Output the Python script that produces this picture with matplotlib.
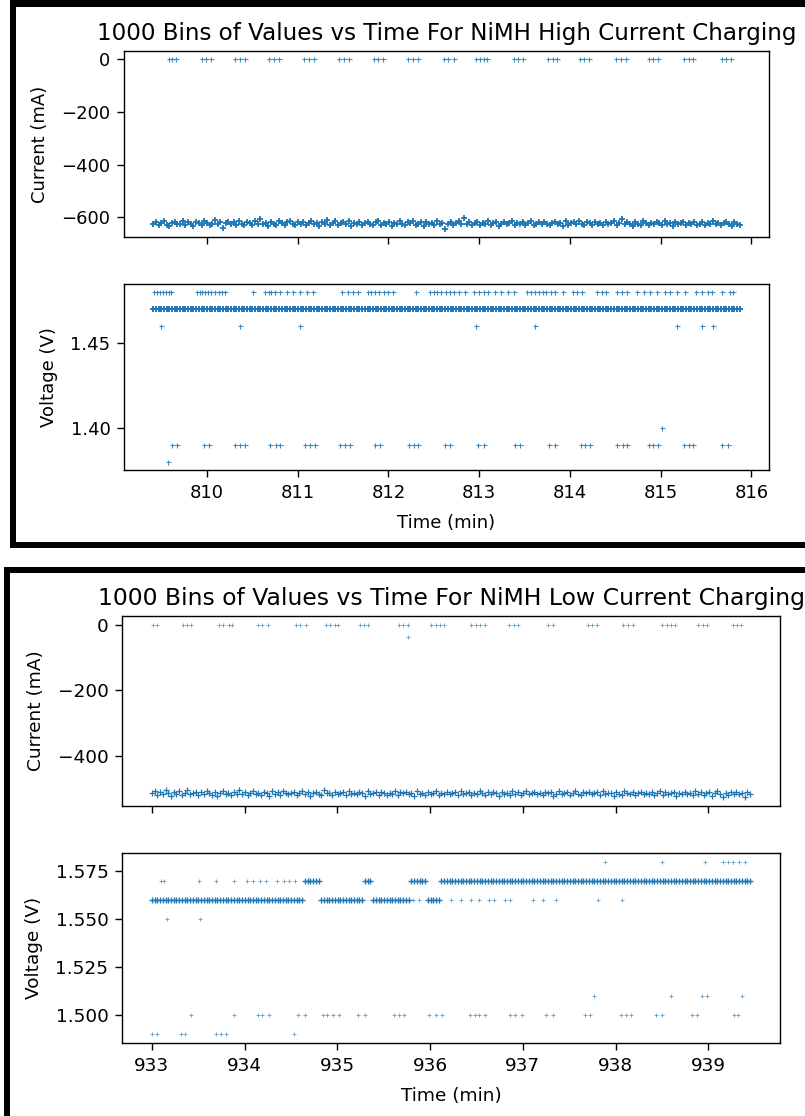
import numpy as np
import matplotlib.pyplot as plt
from matplotlib.patches import Rectangle

W, H = 805, 1116
BLUE = '#1f77b4'

# ---------------- high current charging ----------------
hi_title = '1000 Bins of Values vs Time For NiMH High Current Charging'
hi_time_start, hi_time_end = 809.41, 815.87
hi_band_ma = [
    -624, -618, -629, -621, -615, -627, -632, -620, -617, -626,
    -623, -613, -628, -619, -625, -631, -616, -622, -627, -614,
    -620, -629, -624, -611, -626, -619, -641, -621, -616, -625,
    -618, -630, -612, -623, -627, -617, -621, -628, -614, -624,
    -605, -626, -620, -631, -617, -623, -629, -615, -622, -627,
    -619, -612, -625, -630, -618, -624, -616, -628, -621, -613,
    -626, -620, -632, -617, -623, -609, -627, -621, -615, -629,
    -622, -618, -626, -614, -631, -620, -624, -617, -628, -622,
    -616, -625, -630, -619, -613, -627, -621, -624, -618, -633,
    -620, -626, -615, -623, -629, -617, -622, -612, -627, -625,
    -619, -631, -616, -624, -621, -628, -614, -626, -620, -642,
    -623, -617, -629, -621, -615, -626, -602, -624, -619, -630,
    -622, -616, -627, -620, -625, -613, -628, -621, -618, -632,
    -624, -617, -626, -622, -615, -629, -620, -625, -618, -627,
    -621, -614, -630, -623, -619, -626, -616, -624, -628, -620,
    -617, -625, -622, -631, -615, -627, -621, -619, -626, -613,
    -624, -629, -618, -622, -627, -616, -623, -620, -630, -617,
    -625, -621, -614, -628, -622, -606, -626, -619, -624, -631,
    -618, -623, -627, -615, -621, -629, -620, -625, -617, -622,
    -628, -614, -624, -620, -631, -618, -626, -622, -616, -627,
    -621, -625, -619, -630, -623, -617, -628, -621, -624, -615,
    -626, -620, -629, -622, -618, -625, -632, -619, -623, -627,
]
hi_zero_t = [
    809.58, 809.62, 809.66, 809.95, 809.99, 810.04, 810.31, 810.36, 810.42,
    810.68, 810.74, 810.80, 811.07, 811.12, 811.18, 811.46, 811.51, 811.57,
    811.84, 811.89, 811.94, 812.22, 812.27, 812.33, 812.61, 812.66, 812.72,
    812.97, 813.01, 813.05, 813.09, 813.38, 813.43, 813.48, 813.76, 813.81,
    813.86, 814.11, 814.16, 814.21, 814.51, 814.56, 814.62, 814.87, 814.92,
    814.97, 815.26, 815.31, 815.36, 815.67, 815.72, 815.77,
]
hi_volt_main = 1.47
hi_v148_t = [
    809.42, 809.45, 809.48, 809.52, 809.55, 809.58, 809.61,
    809.89, 809.92, 809.95, 809.98, 810.01, 810.05, 810.09, 810.13, 810.17, 810.20,
    810.51, 810.64, 810.68, 810.71, 810.75, 810.81, 810.88, 810.95, 811.03,
    811.10, 811.17, 811.49, 811.55, 811.61, 811.67, 811.77, 811.81, 811.85,
    811.90, 811.95, 812.00, 812.05, 812.30, 812.46, 812.50, 812.54, 812.58,
    812.63, 812.68, 812.72, 812.78, 812.84, 812.94, 813.00, 813.05, 813.10,
    813.17, 813.24, 813.32, 813.38, 813.53, 813.57, 813.61, 813.66, 813.70,
    813.74, 813.79, 813.83, 813.92, 814.03, 814.08, 814.13, 814.30, 814.35,
    814.40, 814.52, 814.57, 814.63, 814.74, 814.82, 814.88, 814.96, 815.05,
    815.10, 815.18, 815.27, 815.39, 815.45, 815.52, 815.56, 815.68, 815.76, 815.80,
]
hi_v146_t = [809.49, 810.36, 811.03, 812.96, 813.61, 815.18, 815.45, 815.58]
hi_v140_t = [815.01]
hi_v139_t = [
    809.62, 809.67, 809.97, 810.02, 810.31, 810.36, 810.42, 810.69, 810.76,
    810.81, 811.08, 811.14, 811.19, 811.47, 811.52, 811.58, 811.85, 811.91,
    812.23, 812.28, 812.33, 812.62, 812.68, 812.99, 813.05, 813.39, 813.45,
    813.77, 813.83, 814.12, 814.17, 814.22, 814.52, 814.58, 814.63, 814.87,
    814.92, 814.97, 815.26, 815.31, 815.36, 815.68, 815.74,
]
hi_v138_t = [809.57]
hi_xticks = [810, 811, 812, 813, 814, 815, 816]
hi_current_ticks = [0, -200, -400, -600]
hi_volt_ticks = [1.40, 1.45]

# ---------------- low current charging ----------------
lo_title = '1000 Bins of Values vs Time For NiMH Low Current Charging'
lo_time_start, lo_time_end = 933.0, 939.45
lo_band_ma = [
    -512, -507, -518, -510, -515, -504, -513, -520, -509, -514,
    -506, -517, -511, -503, -516, -512, -508, -519, -510, -514,
    -505, -513, -517, -509, -521, -511, -507, -515, -512, -518,
    -508, -514, -503, -516, -510, -519, -512, -506, -515, -511,
    -517, -509, -513, -522, -507, -514, -510, -518, -505, -512,
    -516, -511, -508, -519, -513, -506, -515, -510, -520, -512,
    -509, -514, -517, -504, -513, -511, -518, -508, -515, -512,
    -510, -519, -506, -514, -511, -516, -509, -513, -521, -507,
    -515, -512, -510, -517, -508, -513, -519, -511, -514, -506,
    -518, -510, -513, -509, -516, -512, -520, -507, -514, -511,
    -517, -509, -515, -512, -505, -518, -511, -514, -508, -516,
    -513, -510, -519, -507, -515, -512, -509, -517, -511, -514,
    -506, -513, -518, -510, -516, -508, -512, -521, -509, -515,
    -511, -517, -507, -514, -510, -519, -513, -506, -516, -512,
    -509, -515, -511, -518, -508, -513, -510, -520, -514, -507,
    -516, -512, -509, -517, -511, -505, -514, -519, -510, -513,
    -508, -516, -512, -510, -518, -507, -515, -511, -513, -520,
    -509, -514, -517, -506, -512, -516, -510, -519, -513, -508,
    -515, -511, -514, -509, -517, -512, -507, -518, -510, -516,
    -513, -508, -520, -511, -514, -509, -516, -512, -518, -507,
    -514, -510, -517, -512, -509, -521, -513, -506, -515, -525,
    -511, -518, -508, -514, -510, -516, -512, -523, -509, -515,
]
lo_zero_t = [
    933.01, 933.05, 933.34, 933.38, 933.42, 933.72, 933.77, 933.83, 933.86,
    934.14, 934.19, 934.25, 934.55, 934.60, 934.66, 934.88, 934.92, 934.97,
    935.01, 935.24, 935.29, 935.33, 935.66, 935.71, 935.76, 936.01, 936.06,
    936.11, 936.15, 936.44, 936.49, 936.54, 936.59, 936.85, 936.90, 936.95,
    937.27, 937.33, 937.70, 937.75, 937.80, 938.08, 938.13, 938.19, 938.50,
    938.55, 938.60, 938.64, 938.89, 938.94, 938.99, 939.27, 939.31, 939.35,
]
lo_dip_t, lo_dip_ma = [935.76], [-38]
lo_v156_spans = [(933.0, 934.62), (934.80, 935.27), (935.36, 935.78), (935.95, 936.12)]
lo_v156_extra_t = [935.82, 935.88, 936.22, 936.33, 936.44, 936.53, 936.64, 936.69,
                   936.81, 936.86, 937.11, 937.22, 937.36, 937.81, 938.07]
lo_v157_extra_t = [933.10, 933.13, 933.51, 933.69, 933.88, 934.02, 934.09, 934.17,
                   934.23, 934.35, 934.42, 934.48, 934.54]
lo_v158_t = [937.89, 938.50, 938.96, 939.16, 939.21, 939.27, 939.33, 939.40]
lo_v155_t = [933.16, 933.52]
lo_v151_t = [937.77, 938.60, 938.93, 938.99, 939.36]
lo_v150_t = [
    933.42, 933.88, 934.14, 934.19, 934.26, 934.58, 934.65, 934.84, 934.89,
    934.95, 935.02, 935.22, 935.30, 935.61, 935.66, 935.72, 935.99, 936.06,
    936.13, 936.43, 936.48, 936.53, 936.59, 936.86, 936.92, 936.99, 937.25,
    937.33, 937.67, 937.72, 938.06, 938.11, 938.17, 938.44, 938.50, 938.82,
    938.88, 939.28, 939.32,
]
lo_v149_t = [933.00, 933.05, 933.31, 933.36, 933.69, 933.75, 933.80, 934.53]
lo_xticks = [933, 934, 935, 936, 937, 938, 939]
lo_current_ticks = [0, -200, -400]
lo_volt_ticks = [1.500, 1.525, 1.550, 1.575]


def px_axes(fig, x0, y0, x1, y1, sharex=None):
    return fig.add_axes([x0 / W, 1 - y1 / H, (x1 - x0) / W, (y1 - y0) / H],
                        sharex=sharex)


def px_black(fig, x0, y0, x1, y1):
    fig.add_artist(Rectangle((x0 / W, 1 - y1 / H), (x1 - x0) / W, (y1 - y0) / H,
                             transform=fig.transFigure, color='black', lw=0))


def pts(ax, t, v, ms, mew, alpha=1.0):
    ax.plot(t, v, ls='none', marker='+', color=BLUE, ms=ms, mew=mew, alpha=alpha)


def style(ax, fs):
    for s in ax.spines.values():
        s.set_linewidth(1.0)
    ax.tick_params(labelsize=fs, length=4.8, width=1.0, pad=5)


fig = plt.figure(figsize=(W / 100, H / 100), dpi=100)
fig.patch.set_facecolor('white')

# frames of the two screenshots
px_black(fig, 10, 0, 805, 7)
px_black(fig, 10, 0, 16, 548)
px_black(fig, 10, 541.5, 805, 548)
px_black(fig, 4, 567, 805, 573)
px_black(fig, 4, 567, 10, 1116)

# high current panel
fs = 13
ax1 = px_axes(fig, 124, 51, 769, 237)
ax2 = px_axes(fig, 124, 284, 769, 470, sharex=ax1)
t_hi = np.linspace(hi_time_start, hi_time_end, len(hi_band_ma))
ms, mew = 3.6, 0.8
pts(ax1, t_hi, hi_band_ma, 5.0, 1.3)
pts(ax1, hi_zero_t, np.zeros(len(hi_zero_t)), ms, mew, 0.85)
pts(ax2, t_hi, np.full(len(t_hi), hi_volt_main), 5.0, 1.4)
pts(ax2, hi_v148_t, np.full(len(hi_v148_t), 1.48), ms, mew, 0.85)
pts(ax2, hi_v146_t, np.full(len(hi_v146_t), 1.46), ms, mew, 0.85)
pts(ax2, hi_v140_t, np.full(len(hi_v140_t), 1.40), ms, mew, 0.85)
pts(ax2, hi_v139_t, np.full(len(hi_v139_t), 1.39), ms, mew, 0.85)
pts(ax2, hi_v138_t, np.full(len(hi_v138_t), 1.38), ms, mew, 0.85)
ax1.set_title(hi_title, fontsize=16.6, pad=8)
ax1.set_ylabel('Current (mA)', fontsize=fs, labelpad=9)
ax2.set_ylabel('Voltage (V)', fontsize=fs, labelpad=9)
ax2.set_xlabel('Time (min)', fontsize=fs, labelpad=9)
ax2.set_xticks(hi_xticks)
ax1.set_yticks(hi_current_ticks)
ax2.set_yticks(hi_volt_ticks)
ax2.set_yticklabels([f'{v:.2f}' for v in hi_volt_ticks])
ax1.tick_params(labelbottom=False)
for ax in (ax1, ax2):
    style(ax, fs)

# low current panel
fs = 13.3
ax3 = px_axes(fig, 122, 616, 780, 806)
ax4 = px_axes(fig, 122, 853, 780, 1043, sharex=ax3)
t_lo = np.linspace(lo_time_start, lo_time_end, len(lo_band_ma))
ms, mew = 3.0, 0.6
pts(ax3, t_lo, lo_band_ma, 4.0, 0.9)
pts(ax3, lo_zero_t, np.zeros(len(lo_zero_t)), ms, mew, 0.7)
pts(ax3, lo_dip_t, lo_dip_ma, ms, mew, 0.7)
in_156 = np.zeros(len(t_lo), dtype=bool)
for a, b in lo_v156_spans:
    in_156 |= (t_lo >= a) & (t_lo <= b)
lo_main = np.where(in_156, 1.56, 1.57)
pts(ax4, t_lo, lo_main, 4.0, 1.0)
for tt, lv in [(lo_v156_extra_t, 1.56), (lo_v157_extra_t, 1.57), (lo_v158_t, 1.58),
               (lo_v155_t, 1.55), (lo_v151_t, 1.51), (lo_v150_t, 1.50), (lo_v149_t, 1.49)]:
    pts(ax4, tt, np.full(len(tt), lv), ms, mew, 0.7)
ax3.set_title(lo_title, fontsize=16.9, pad=8)
ax3.set_ylabel('Current (mA)', fontsize=fs, labelpad=9)
ax4.set_ylabel('Voltage (V)', fontsize=fs, labelpad=9)
ax4.set_xlabel('Time (min)', fontsize=fs, labelpad=9)
ax4.set_xticks(lo_xticks)
ax3.set_yticks(lo_current_ticks)
ax4.set_yticks(lo_volt_ticks)
ax4.set_yticklabels([f'{v:.3f}' for v in lo_volt_ticks])
ax3.tick_params(labelbottom=False)
for ax in (ax3, ax4):
    style(ax, fs)

fig.savefig('out.png', dpi=100)
